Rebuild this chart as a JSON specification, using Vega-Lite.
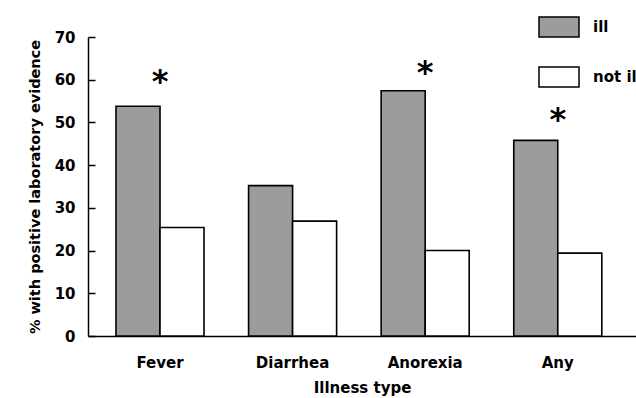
{
  "$schema": "https://vega.github.io/schema/vega-lite/v6.json",
  "width": 548,
  "height": 299,
  "autosize": "none",
  "padding": {"left": 88, "top": 37, "right": 0, "bottom": 62},
  "background": "white",
  "config": {
    "view": {"stroke": null},
    "font": "DejaVu Sans",
    "axis": {"grid": false, "domainColor": "black", "domainWidth": 1.5, "tickColor": "black", "labelColor": "black", "titleColor": "black", "labelFont": "DejaVu Sans", "titleFont": "DejaVu Sans", "labelFontWeight": "bold", "titleFontWeight": "bold"}
  },
  "datasets": {
    "bars": [
      {"illness": "Fever", "group": "ill", "pct": 53.8},
      {"illness": "Fever", "group": "not ill", "pct": 25.4},
      {"illness": "Diarrhea", "group": "ill", "pct": 35.2},
      {"illness": "Diarrhea", "group": "not ill", "pct": 26.9},
      {"illness": "Anorexia", "group": "ill", "pct": 57.4},
      {"illness": "Anorexia", "group": "not ill", "pct": 20.0},
      {"illness": "Any", "group": "ill", "pct": 45.8},
      {"illness": "Any", "group": "not ill", "pct": 19.4}
    ],
    "stars": [
      {"illness": "Fever", "pct": 61.5, "mark": "*"},
      {"illness": "Anorexia", "pct": 63.6, "mark": "*"},
      {"illness": "Any", "pct": 52.6, "mark": "*"}
    ]
  },
  "encoding": {
    "x": {
      "field": "illness", "type": "nominal",
      "sort": ["Fever", "Diarrhea", "Anorexia", "Any"],
      "scale": {"paddingInner": 0.336, "paddingOuter": 0.2345, "align": 0.45},
      "title": "Illness type",
      "axis": {"labelAngle": 0, "ticks": false, "labelPadding": 19, "labelFontSize": 15, "titleFontSize": 15, "titlePadding": 10}
    },
    "y": {
      "field": "pct", "type": "quantitative",
      "scale": {"domain": [0, 70], "nice": false},
      "title": "% with positive laboratory evidence",
      "axis": {"values": [0, 10, 20, 30, 40, 50, 60, 70], "tickSize": -7, "tickWidth": 1.5, "labelPadding": 20, "labelFontSize": 15, "titleFontSize": 14.5, "titleX": -46, "titleY": 149.5, "titleAngle": -90, "titleAlign": "center", "titleBaseline": "bottom"}
    }
  },
  "layer": [
    {
      "data": {"name": "bars"},
      "mark": {"type": "bar", "stroke": "black", "strokeWidth": 1.6},
      "encoding": {
        "xOffset": {
          "field": "group", "type": "nominal",
          "sort": ["ill", "not ill"],
          "scale": {"paddingInner": 0, "paddingOuter": 0}
        },
        "fill": {
          "field": "group", "type": "nominal",
          "scale": {"domain": ["ill", "not ill"], "range": ["#9c9c9c", "white"]},
          "legend": {
            "title": null,
            "orient": "none",
            "legendX": 460,
            "legendY": -21,
            "padding": 0,
            "symbolType": "M-2,-1H2V1H-2Z",
            "symbolSize": 400,
            "symbolStrokeColor": "black",
            "symbolStrokeWidth": 1.5,
            "symbolOpacity": 1,
            "labelFont": "DejaVu Sans",
            "labelFontWeight": "bold",
            "labelFontSize": 15,
            "labelColor": "black",
            "labelOffset": 23,
            "rowPadding": 24,
            "labelLimit": 0
          }
        }
      }
    },
    {
      "data": {"name": "stars"},
      "mark": {"type": "text", "font": "DejaVu Sans", "fontWeight": "bold", "fontSize": 32, "color": "black", "baseline": "alphabetic", "align": "center", "dy": 19},
      "encoding": {
        "text": {"field": "mark"}
      }
    }
  ]
}
